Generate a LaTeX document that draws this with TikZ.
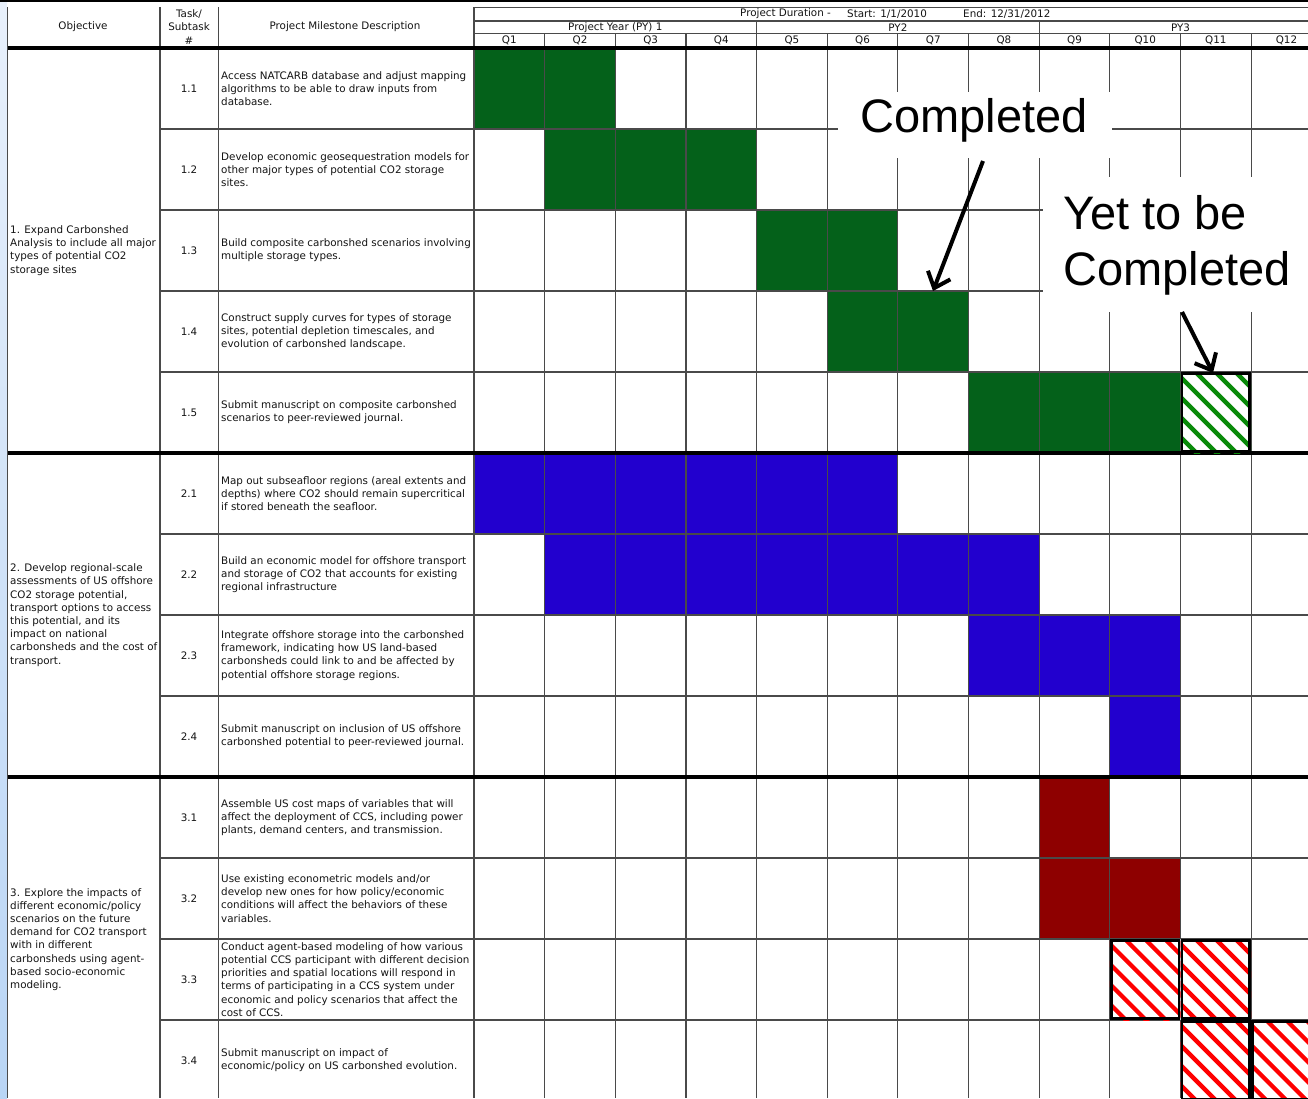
\documentclass[tikz,border=0pt]{standalone}
\usepackage{fontspec}
\setmainfont{DejaVu Sans}
\newfontfamily\calloutfont{Liberation Sans}
\usetikzlibrary{arrows.meta}
\definecolor{gfill}{HTML}{04611A}
\definecolor{bfill}{HTML}{2200CE}
\definecolor{rfill}{HTML}{8E0000}
\definecolor{ghatch}{HTML}{0A8A0A}
\definecolor{rhatch}{HTML}{FF0000}
\definecolor{gridc}{HTML}{4A4A4A}
\definecolor{stripTop}{HTML}{E8F0FB}
\definecolor{stripBot}{HTML}{B9D5F5}
\tikzset{
  tx/.style={font=\fontsize{10.35}{13.2}\selectfont, inner sep=0pt, align=left, text=black!92},
  gridline/.style={draw=gridc, line width=1.1pt},
  thickline/.style={draw=black, line width=3.2pt},
  callout/.style={font=\calloutfont\fontsize{47}{56}\selectfont, inner sep=0pt, align=left, text=black},
  callarrow/.style={draw=black, line width=4pt, -{Straight Barb[length=14pt,width=24pt]}}
}
\newcommand\cellfill[3]{\fill[#3] ({474+(#1-1)*70.65},{48+(#2-1)*81}) rectangle ({474+#1*70.65},{48+#2*81});}
\newcommand\hatchcell[3]{%
  \begin{scope}
    \clip ({474+(#1-1)*70.65},{48+(#2-1)*81}) rectangle ({474+#1*70.65},{48+#2*81});
    \fill[white] ({474+(#1-1)*70.65},{48+(#2-1)*81}) rectangle ({474+#1*70.65},{48+#2*81});
    \foreach \s in {-1,...,10} \draw[#3, line width=4.3pt] ({474+(#1-1)*70.65+\s*20-90},{48+(#2-1)*81-5}) -- ++(100,100);
  \end{scope}
  \draw[black, line width=2.4pt] ({474+(#1-1)*70.65+1.5},{48+(#2-1)*81+1.5}) rectangle ({474+#1*70.65-1.5},{48+#2*81-1.5});
}
\begin{document}
\begin{tikzpicture}[x=1pt,y=-1pt]
\clip (0,0) rectangle (1308,1098);
\fill[white] (0,0) rectangle (1308,1098);
\shade[top color=stripTop, bottom color=stripBot] (0,0) rectangle (7,1098);
\draw[black, line width=1.5pt] (0,1) -- (1308,1);

% ---- coloured cells
\foreach \c/\r in {1/1,2/1,2/2,3/2,4/2,5/3,6/3,6/4,7/4,8/5,9/5,10/5} {\cellfill{\c}{\r}{gfill}}
\foreach \c/\r in {1/6,2/6,3/6,4/6,5/6,6/6,2/7,3/7,4/7,5/7,6/7,7/7,8/7,8/8,9/8,10/8,10/9} {\cellfill{\c}{\r}{bfill}}
\foreach \c/\r in {9/10,9/11,10/11} {\cellfill{\c}{\r}{rfill}}

% ---- grid
\foreach \k in {0,...,12} \draw[gridline] ({474+\k*70.65},33.3) -- ({474+\k*70.65},1098);
\foreach \k in {4,8} \draw[gridline] ({474+\k*70.65},21) -- ({474+\k*70.65},33.3);
\draw[gridline] (474,7.3) -- (474,33.3);
\foreach \yy in {7.3,21,33.3} \draw[gridline] (474,\yy) -- (1308,\yy);
\foreach \r in {1,2,3,4,6,7,8,10,11,12} \draw[gridline] (160,{48+\r*81}) -- (1308,{48+\r*81});
\foreach \xx in {7.5,160,218.3} \draw[gridline] (\xx,7.3) -- (\xx,1098);
\foreach \yy in {48,453,777} \draw[thickline] (7.5,\yy) -- (1308,\yy);

% ---- hatched cells
\hatchcell{11}{5}{ghatch}
\hatchcell{10}{12}{rhatch}
\hatchcell{11}{12}{rhatch}
\hatchcell{11}{13}{rhatch}
\hatchcell{12}{13}{rhatch}

% ---- header text
\node[tx] (hobj) at (83,27) {Objective};
\node[tx, align=center, font=\fontsize{10.35}{13.5}\selectfont] (htask) at (189,27) {Task/\\Subtask\\\#};
\node[tx] (hdesc) at (345,27) {Project Milestone Description};
\node[tx, anchor=west] (hdur) at (740,14) {Project Duration -};
\node[tx, anchor=west] (hstart) at (847,14) {Start: 1/1/2010};
\node[tx, anchor=west] (hend) at (963,14) {End: 12/31/2012};
\node[tx] (py1) at (615.3,27.3) {Project Year (PY) 1};
\node[tx] (py2) at (897.9,27.3) {PY2};
\node[tx] (py3) at (1180.5,27.3) {PY3};
\foreach \k in {1,...,12} \node[tx] (q\k) at ({474+(\k-0.5)*70.65},40.8) {Q\k};

% ---- task numbers
\foreach \lab [count=\i] in {1.1,1.2,1.3,1.4,1.5,2.1,2.2,2.3,2.4,3.1,3.2,3.3,3.4}
  \node[tx] (t\i) at (189,{48+(\i-0.5)*81}) {\lab};

% ---- objectives
\node[tx, anchor=west] (obj1) at (10,250.5) {1. Expand Carbonshed\\Analysis to include all major\\types of potential CO2\\storage sites};
\node[tx, anchor=west] (obj2) at (10,615) {2. Develop regional-scale\\assessments of US offshore\\CO2 storage potential,\\transport options to access\\this potential, and its\\impact on national\\carbonsheds and the cost of\\transport.};
\node[tx, anchor=west] (obj3) at (10,939.5) {3. Explore the impacts of\\different economic/policy\\scenarios on the future\\demand for CO2 transport\\with in different\\carbonsheds using agent-\\based socio-economic\\modeling.};

% ---- descriptions
\node[tx, anchor=west] (d1) at (221,{48+0.5*81}) {Access NATCARB database and adjust mapping\\algorithms to be able to draw inputs from\\database.};
\node[tx, anchor=west] (d2) at (221,{48+1.5*81}) {Develop economic geosequestration models for\\other major types of potential CO2 storage\\sites.};
\node[tx, anchor=west] (d3) at (221,{48+2.5*81}) {Build composite carbonshed scenarios involving\\multiple storage types.};
\node[tx, anchor=west] (d4) at (221,{48+3.5*81}) {Construct supply curves for types of storage\\sites, potential depletion timescales, and\\evolution of carbonshed landscape.};
\node[tx, anchor=west] (d5) at (221,{48+4.5*81}) {Submit manuscript on composite carbonshed\\scenarios to peer-reviewed journal.};
\node[tx, anchor=west] (d6) at (221,{48+5.5*81}) {Map out subseafloor regions (areal extents and\\depths) where CO2 should remain supercritical\\if stored beneath the seafloor.};
\node[tx, anchor=west] (d7) at (221,{48+6.5*81}) {Build an economic model for offshore transport\\and storage of CO2 that accounts for existing\\regional infrastructure};
\node[tx, anchor=west] (d8) at (221,{48+7.5*81}) {Integrate offshore storage into the carbonshed\\framework, indicating how US land-based\\carbonsheds could link to and be affected by\\potential offshore storage regions.};
\node[tx, anchor=west] (d9) at (221,{48+8.5*81}) {Submit manuscript on inclusion of US offshore\\carbonshed potential to peer-reviewed journal.};
\node[tx, anchor=west] (d10) at (221,{48+9.5*81}) {Assemble US cost maps of variables that will\\affect the deployment of CCS, including power\\plants, demand centers, and transmission.};
\node[tx, anchor=west] (d11) at (221,{48+10.5*81}) {Use existing econometric models and/or\\develop new ones for how policy/economic\\conditions will affect the behaviors of these\\variables.};
\node[tx, anchor=west] (d12) at (221,{48+11.5*81}) {Conduct agent-based modeling of how various\\potential CCS participant with different decision\\priorities and spatial locations will respond in\\terms of participating in a CCS system under\\economic and policy scenarios that affect the\\cost of CCS.};
\node[tx, anchor=west] (d13) at (221,{48+12.5*81}) {Submit manuscript on impact of\\economic/policy on US carbonshed evolution.};

% ---- callouts
\fill[white] (838,92) rectangle (1112,158);
\fill[white] (1043,177) rectangle (1308,312);
\node[callout] (comp) at (974,120) {Completed};
\node[callout, anchor=west] (yet) at (1063,245) {Yet to be\\Completed};
\coordinate (c1s) at (983,161);
\coordinate (c1e) at (933,291);
\coordinate (c2s) at (1182,312);
\coordinate (c2e) at (1213,373);
\draw[callarrow] (c1s) -- (c1e);
\draw[callarrow] (c2s) -- (c2e);
\end{tikzpicture}
\end{document}
